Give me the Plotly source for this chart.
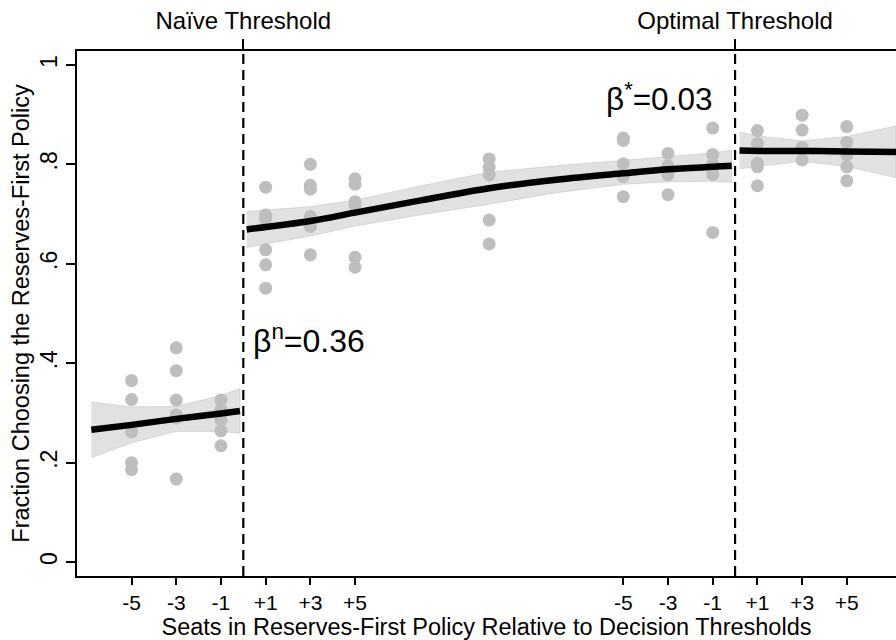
import plotly.graph_objects as go

# ---------------- data ----------------
# x positions: naive threshold at 0, optimal threshold at 22
naive_threshold = 0
optimal_threshold = 22

scatter_x = [-5, -3, -1, 1, 3, 5, 11, 17, 19, 21, 23, 25, 27]
scatter_vals = [
    [0.365, 0.327, 0.262, 0.200, 0.186],
    [0.431, 0.385, 0.326, 0.296, 0.290, 0.167],
    [0.326, 0.306, 0.286, 0.264, 0.234],
    [0.754, 0.698, 0.690, 0.628, 0.598, 0.551],
    [0.800, 0.758, 0.750, 0.695, 0.675, 0.618],
    [0.771, 0.760, 0.725, 0.718, 0.613, 0.593],
    [0.811, 0.794, 0.779, 0.688, 0.640],
    [0.853, 0.848, 0.801, 0.775, 0.735],
    [0.822, 0.797, 0.779, 0.739],
    [0.873, 0.820, 0.800, 0.780, 0.663],
    [0.868, 0.842, 0.802, 0.795, 0.757],
    [0.899, 0.869, 0.834, 0.809],
    [0.876, 0.844, 0.819, 0.795, 0.767],
]

# fitted segment below naive threshold
fit1_x = [-6.8, -5, -3, -1, -0.15]
fit1_y = [0.266, 0.276, 0.288, 0.299, 0.304]
fit1_hi = [0.322, 0.312, 0.313, 0.335, 0.349]
fit1_lo = [0.210, 0.240, 0.263, 0.263, 0.259]

# fitted segment between thresholds (quadratic)
fit2_x = [0.15, 3, 5, 8, 11, 14, 17, 19, 21, 21.85]
fit2_y = [0.669, 0.686, 0.703, 0.728, 0.752, 0.769, 0.782, 0.790, 0.795, 0.797]
fit2_hi = [0.705, 0.715, 0.728, 0.757, 0.784, 0.797, 0.808, 0.816, 0.823, 0.828]
fit2_lo = [0.633, 0.656, 0.676, 0.699, 0.720, 0.743, 0.760, 0.765, 0.766, 0.764]

# fitted segment above optimal threshold
fit3_x = [22.2, 23, 25, 27, 29.2]
fit3_y = [0.828, 0.827, 0.827, 0.826, 0.825]
fit3_hi = [0.865, 0.857, 0.847, 0.856, 0.877]
fit3_lo = [0.791, 0.796, 0.806, 0.796, 0.773]

tick_vals = [-5, -3, -1, 1, 3, 5, 17, 19, 21, 23, 25, 27]
tick_text = ["-5", "-3", "-1", "+1", "+3", "+5", "-5", "-3", "-1", "+1", "+3", "+5"]
y_ticks = [0, 0.2, 0.4, 0.6, 0.8, 1]
y_text = ["0", ".2", ".4", ".6", ".8", "1"]
top_ticks = [naive_threshold, optimal_threshold]
top_text = ["Naïve Threshold", "Optimal Threshold"]

x_range = [-7.44, 29.2]
y_range = [-0.028, 1.028]

FONT = "Arial, Liberation Sans, Helvetica, sans-serif"
POINT = "rgb(190,190,190)"
BAND = "rgba(220,220,220,0.85)"

fig = go.Figure()

# CI bands
for fx, hi, lo in [(fit1_x, fit1_hi, fit1_lo), (fit2_x, fit2_hi, fit2_lo), (fit3_x, fit3_hi, fit3_lo)]:
    fig.add_trace(go.Scatter(
        x=fx + fx[::-1], y=hi + lo[::-1], fill="toself", mode="lines",
        line=dict(color="rgba(208,208,208,0.8)", width=1), fillcolor=BAND,
        hoverinfo="skip", showlegend=False))

# scatter points
px, py = [], []
for xv, vals in zip(scatter_x, scatter_vals):
    for v in vals:
        px.append(xv)
        py.append(v)
fig.add_trace(go.Scatter(x=px, y=py, mode="markers",
                         marker=dict(size=13, color=POINT), showlegend=False))

# fitted lines
for fx, fy in [(fit1_x, fit1_y), (fit2_x, fit2_y), (fit3_x, fit3_y)]:
    fig.add_trace(go.Scatter(x=fx, y=fy, mode="lines",
                             line=dict(color="black", width=6.5, shape="spline"),
                             showlegend=False))

# invisible trace for top axis
fig.add_trace(go.Scatter(x=top_ticks, y=[0.5, 0.5], xaxis="x2", mode="markers",
                         marker=dict(opacity=0), showlegend=False, hoverinfo="skip"))

# threshold lines
for t in top_ticks:
    fig.add_shape(type="line", x0=t, x1=t, y0=0, y1=1, xref="x", yref="paper",
                  line=dict(color="black", width=2.2, dash="10px,6px"))

fig.add_annotation(x=0.35, y=0.449, xref="x", yref="y", xanchor="left", yanchor="middle",
                   text="β<sup>n</sup>=0.36", showarrow=False,
                   font=dict(size=32, color="black", family=FONT))
fig.add_annotation(x=16.15, y=0.935, xref="x", yref="y", xanchor="left", yanchor="middle",
                   text="β<sup>*</sup>=0.03", showarrow=False,
                   font=dict(size=31.5, color="black", family=FONT))

fig.update_layout(
    width=896, height=640,
    margin=dict(l=77, r=0, t=51, b=64),
    paper_bgcolor="white", plot_bgcolor="white",
    font=dict(family=FONT, color="black"),
    xaxis=dict(range=x_range, tickvals=tick_vals, ticktext=tick_text, automargin=False,
               showgrid=False, zeroline=False, showline=True, linecolor="black", linewidth=2,
               ticks="outside", ticklen=7, tickwidth=1.5, tickcolor="black",
               tickfont=dict(size=21),
               title=dict(text="Seats in Reserves-First Policy Relative to Decision Thresholds",
                          font=dict(size=23.5), standoff=0)),
    xaxis2=dict(range=x_range, overlaying="x", side="top", tickvals=top_ticks, automargin=False,
                ticktext=top_text, showgrid=False, zeroline=False, showline=True,
                linecolor="black", linewidth=2, ticks="outside", ticklen=10,
                tickwidth=1.5, tickcolor="black", tickfont=dict(size=24)),
    yaxis=dict(range=y_range, tickvals=y_ticks, ticktext=y_text, tickangle=-90, automargin=False,
               showgrid=False, zeroline=False, showline=True, linecolor="black", linewidth=2,
               ticks="outside", ticklen=9, tickwidth=1.5, tickcolor="black",
               tickfont=dict(size=23),
               title=dict(text="Fraction Choosing the Reserves-First Policy",
                          font=dict(size=23.5), standoff=0)),
)

fig.write_html("out.html", config={"displayModeBar": False},
               post_script="document.body.style.margin='0';document.body.style.overflow='hidden';")
